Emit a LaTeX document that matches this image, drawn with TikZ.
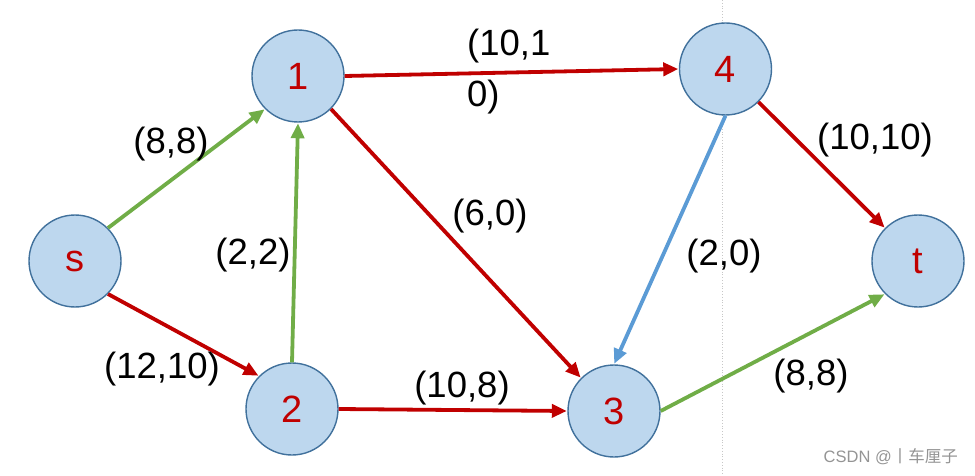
\documentclass[tikz,border=0pt]{standalone}
\usepackage{fontspec}
\setmainfont{Liberation Sans}
\newfontfamily\cjkfont{Noto Sans CJK SC}
\usetikzlibrary{arrows.meta}
\definecolor{nodefill}{HTML}{BDD7EE}
\definecolor{nodeline}{HTML}{41719C}
\definecolor{ered}{HTML}{C00000}
\definecolor{egreen}{HTML}{70AD47}
\definecolor{eblue}{HTML}{5B9BD5}
\tikzset{
  vert/.style={circle, draw=nodeline, fill=nodefill, line width=1.4pt, minimum size=92pt, inner sep=0pt, text=ered, font=\fontsize{38}{44}\selectfont},
  edge/.style={line width=3.8pt, -{Triangle[length=15pt,width=13pt]}, shorten >=0.5pt},
  lab/.style={font=\fontsize{36.5}{42}\selectfont, inner sep=0pt, text=black},
}
\begin{document}
\begin{tikzpicture}[x=1pt,y=-1pt]
\useasboundingbox (0,0) rectangle (975,476);
\draw[black!22, line width=0.8pt, dotted] (722,0) -- (722,476);
\node[vert] (s) at (75,261) {s};
\node[vert] (n1) at (298,76) {1};
\node[vert] (n4) at (725.5,69) {4};
\node[vert] (t) at (918,261) {t};
\node[vert] (n2) at (292,409) {2};
\node[vert] (n3) at (614,411) {3};
\draw[edge, egreen] (s.north east) -- (n1.south west);
\draw[edge, ered] (s.south east) -- (n2.north west);
\draw[edge, egreen] (n2.north) -- (n1.south);
\draw[edge, ered] (n1.east) -- (n4.west);
\draw[edge, ered] (n1.south east) -- (n3.north west);
\draw[edge, ered] (n2.east) -- (n3.west);
\draw[edge, eblue] (n4.south) -- (n3.north);
\draw[edge, ered] (n4.south east) -- (t.north west);
\draw[edge, egreen] (n3.east) -- (t.south west);
\node[lab] (l1) at (171,144.5) {(8,8)};
\node[lab] (l2) at (253,255) {(2,2)};
\node[lab] (l3) at (162,369.5) {(12,10)};
\node[lab] (l4) at (462,388) {(10,8)};
\node[lab] (l5) at (490,216) {(6,0)};
\node[lab, anchor=north west, align=left, font=\fontsize{36.5}{51}\selectfont] (l6) at (467,29) {(10,1\\0)};
\node[lab] (l7) at (724,256) {(2,0)};
\node[lab] (l8) at (875,140) {(10,10)};
\node[lab] (l9) at (811,376) {(8,8)};
\node[inner sep=0pt, text=black!42, font=\fontsize{16.5}{18}\selectfont, anchor=east] (wm) at (958,457) {CSDN @\cjkfont 丨车厘子};
\end{tikzpicture}
\end{document}
